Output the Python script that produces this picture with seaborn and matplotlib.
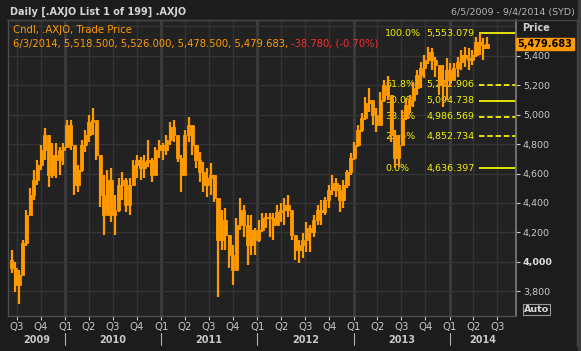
import numpy as np
import pandas as pd
import matplotlib
matplotlib.use('Agg')
import matplotlib.pyplot as plt
from matplotlib.ticker import FuncFormatter
import seaborn as sns

# .AXJO, candles at two-week steps (Jun 2009 - Jun 2014)
start = '2009-06-05'
first_open = 4010
highs = [4080, 4000, 3945, 4150, 4350, 4500, 4625, 4690, 4795, 4910,
         4860, 4805, 4805, 4780, 4805, 4965, 4965, 4760, 4660, 4830,
         4895, 5000, 5045, 4930, 4725, 4590, 4625, 4635, 4455, 4570,
         4610, 4570, 4570, 4690, 4725, 4710, 4725, 4830, 4705, 4780,
         4830, 4805, 4860, 4950, 4965, 4850, 4725, 4895, 4985, 4930,
         4795, 4745, 4680, 4635, 4670, 4590, 4405, 4350, 4365, 4180,
         4115, 4300, 4435, 4385, 4320, 4320, 4230, 4285, 4330, 4330,
         4330, 4330, 4385, 4400, 4435, 4455, 4330, 4160, 4150, 4195,
         4270, 4250, 4320, 4385, 4420, 4440, 4520, 4590, 4570, 4520,
         4555, 4625, 4740, 4815, 4930, 5010, 5120, 5180, 5085, 5045,
         5155, 5235, 5263, 5120, 4895, 4860, 5030, 5115, 5135, 5220,
         5305, 5360, 5405, 5460, 5455, 5390, 5325, 5340, 5385, 5350,
         5350, 5390, 5440, 5460, 5455, 5440, 5528, 5553.079, 5520, 5526]
lows = [3925, 3795, 3712, 3910, 4110, 4320, 4420, 4520, 4625, 4690,
        4510, 4570, 4570, 4590, 4660, 4795, 4760, 4455, 4475, 4610,
        4745, 4815, 4860, 4690, 4370, 4180, 4350, 4270, 4180, 4340,
        4420, 4340, 4320, 4555, 4570, 4555, 4570, 4645, 4540, 4590,
        4705, 4690, 4725, 4795, 4815, 4680, 4475, 4660, 4815, 4725,
        4635, 4540, 4475, 4440, 4455, 4405, 3760, 4080, 4080, 3955,
        3840, 4065, 4215, 4170, 3980, 4045, 4045, 4135, 4200, 4230,
        4170, 4150, 4250, 4270, 4250, 4305, 4150, 4010, 3990, 4025,
        4065, 4065, 4170, 4250, 4250, 4320, 4365, 4455, 4440, 4340,
        4365, 4500, 4590, 4690, 4780, 4880, 4965, 5020, 4930, 4880,
        4950, 5085, 5100, 4815, 4636.397, 4645, 4815, 4965, 5010, 5050,
        5135, 5180, 5250, 5345, 5305, 5255, 5135, 5050, 5100, 5185,
        5235, 5255, 5305, 5325, 5305, 5340, 5390, 5405, 5370, 5475]
closes = [3955, 3840, 3910, 4125, 4320, 4455, 4555, 4660, 4760, 4860,
          4590, 4725, 4690, 4760, 4780, 4930, 4795, 4520, 4625, 4795,
          4860, 4950, 4965, 4725, 4455, 4320, 4555, 4320, 4350, 4520,
          4555, 4385, 4520, 4660, 4690, 4635, 4675, 4690, 4590, 4760,
          4795, 4760, 4830, 4915, 4860, 4705, 4590, 4860, 4930, 4795,
          4690, 4610, 4520, 4570, 4590, 4435, 4150, 4285, 4180, 4045,
          3945, 4250, 4350, 4250, 4115, 4215, 4150, 4215, 4295, 4305,
          4295, 4250, 4340, 4350, 4385, 4350, 4180, 4080, 4115, 4150,
          4230, 4200, 4285, 4350, 4340, 4420, 4490, 4535, 4490, 4420,
          4520, 4610, 4705, 4795, 4895, 4975, 5080, 5100, 5000, 4930,
          5100, 5200, 5135, 4860, 4705, 4795, 4975, 5065, 5100, 5180,
          5270, 5315, 5370, 5425, 5370, 5340, 5200, 5235, 5305, 5235,
          5315, 5360, 5405, 5385, 5370, 5405, 5495, 5475, 5455, 5479.683]

fib_pcts = ['100.0%', '61.8%', '50.0%', '38.2%', '23.6%', '0.0%']
fib_vals = [5553.079, 5202.906, 5094.738, 4986.569, 4852.734, 4636.397]
fib_dashed = [False, True, False, True, True, False]

y_ticks = [3800, 4000, 4200, 4400, 4600, 4800, 5000, 5200, 5400]
years = [2009, 2010, 2011, 2012, 2013, 2014]

last_text = '6/3/2014, 5,518.500, 5,526.000, 5,478.500, 5,479.683, '
chg_text = '-38.780, (-0.70%)'

ORANGE = '#ff9a00'
BG = '#222222'
FIGBG = '#1c1c1c'
GRID = '#343434'
TXT = '#c8c8c8'
YEL = '#f2f200'

sns.set_theme(style='dark', rc={'axes.facecolor': BG, 'figure.facecolor': FIGBG})
plt.rcParams['font.family'] = ['DejaVu Sans']

W, H = 581, 351
fig = plt.figure(figsize=(W / 100, H / 100), dpi=100)
ax = fig.add_axes([8 / W, 1 - 316 / H, (516 - 8) / W, (316 - 20) / H])
ax.set_facecolor(BG)

dates = pd.date_range(start, periods=len(closes), freq='14D') + pd.Timedelta(days=7)
opens = [first_open] + closes[:-1]
x0 = pd.Timestamp('2009-05-29')
x1 = pd.Timestamp('2014-09-10')
ax.set_xlim(x0, x1)
ax.set_ylim(3631, 5644)

# grid
quarters = pd.date_range('2009-07-01', '2014-07-01', freq='QS')
for q in quarters:
    if q.month == 1:
        ax.axvline(q, color='#3a3a3a', lw=2.2, zorder=0)
    else:
        ax.axvline(q, color=GRID, lw=1, zorder=0)
for v in y_ticks + [5600]:
    ax.axhline(v, color=GRID, lw=1, zorder=0)

# fibonacci levels
fx = dates[int(np.argmax(highs))] - pd.Timedelta(days=3)
for p, v, d in zip(fib_pcts, fib_vals, fib_dashed):
    ax.hlines(v, fx, x1, color=YEL, lw=1.3,
              linestyles=(0, (3, 1.6)) if d else 'solid', zorder=2)
    ax.text(pd.Timestamp('2013-05-01'), v, p, color=YEL, fontsize=6.8,
            va='center', ha='left', zorder=1)
    ax.text(pd.Timestamp('2013-10-05'), v, f'{v:,.3f}', color=YEL, fontsize=6.8,
            va='center', ha='left', zorder=1)

# candles
ax.vlines(dates, lows, highs, color=ORANGE, lw=1.6, zorder=3)
bottoms = np.minimum(opens, closes)
heights = np.maximum(np.abs(np.array(closes) - np.array(opens)), 6)
ax.bar(dates, heights, bottom=bottoms, width=12, color=ORANGE,
       edgecolor=ORANGE, linewidth=0.6, zorder=4)

# axes styling
for s in ['left', 'top', 'bottom']:
    ax.spines[s].set_color('#4c4c4c')
    ax.spines[s].set_linewidth(1)
ax.spines['right'].set_color('#7a7a7a')
ax.yaxis.tick_right()
ax.set_yticks(y_ticks)
ax.yaxis.set_major_formatter(FuncFormatter(lambda v, p: f'{v:,.0f}'))
ax.tick_params(axis='y', colors=TXT, labelsize=6.8, length=3, width=0.8, pad=2,
               direction='out', right=True, left=False)
for lab in ax.get_yticklabels():
    if lab.get_text() == '4,000':
        lab.set_fontweight('bold')
        lab.set_color('#e0e0e0')
ax.set_xticks(quarters)
ax.set_xticklabels(['Q%d' % q.quarter for q in quarters])
ax.tick_params(axis='x', colors=TXT, labelsize=7.3, length=3, width=0.8, pad=1.5,
               bottom=True)
ax.grid(False)

# year labels under quarters
for yr in years:
    a = max(pd.Timestamp(f'{yr}-01-01'), x0)
    b = min(pd.Timestamp(f'{yr + 1}-01-01'), x1)
    mid = a + (b - a) / 2
    ax.text(mid, -0.082, str(yr), transform=ax.get_xaxis_transform(),
            ha='center', va='center', color=TXT, fontsize=7, fontweight='bold')
    if yr > 2009:
        ax.plot([a, a], [-0.058, -0.098], transform=ax.get_xaxis_transform(),
                color='#b0b0b0', lw=0.8, clip_on=False)

# header texts
fig.text(10 / W, 1 - 12 / H, 'Daily [.AXJO List 1 of 199] .AXJO', color='#d4d4d4',
         fontsize=7.05, fontweight='bold', va='center')
fig.text(575 / W, 1 - 12 / H, '6/5/2009 - 9/4/2014 (SYD)', color='#b4b4b4',
         fontsize=6.8, ha='right', va='center')
fig.text(13 / W, 1 - 30 / H, 'Cndl, .AXJO, Trade Price', color=ORANGE,
         fontsize=7.25, va='center')
t1 = fig.text(13 / W, 1 - 44 / H, last_text, color=ORANGE, fontsize=7.2, va='center')
ax.annotate(chg_text, xy=(1, 0.5), xycoords=t1, va='center', ha='left',
            color='#ff2a2a', fontsize=7.2, annotation_clip=False)

fig.text(522 / W, 1 - 28 / H, 'Price', color='#d0d0d0', fontsize=7,
         fontweight='bold', va='center')
fig.text(517.5 / W, 1 - 44 / H, '5,479.683', color='black', fontsize=7,
         fontweight='bold', va='center',
         bbox=dict(boxstyle='square,pad=0.12', fc=ORANGE, ec=ORANGE))
fig.text(524 / W, 1 - 309.5 / H, 'Auto', color='#d8d8d8', fontsize=6.8,
         fontweight='bold', va='center',
         bbox=dict(boxstyle='square,pad=0.1', fc=FIGBG, ec='#9a9a9a', lw=0.8))

# outer panel frame
fig.add_artist(plt.Line2D([7 / W, 577 / W], [1 - 20 / H, 1 - 20 / H], color='#444444', lw=1))
fig.add_artist(plt.Line2D([577 / W, 577 / W], [1 - 20 / H, 1 - 346 / H], color='#444444', lw=1))
fig.add_artist(plt.Rectangle((578 / W, 0), 3 / W, 1, color='#3c3c3c', transform=fig.transFigure))

fig.savefig('out.png', dpi=100, facecolor=FIGBG)
